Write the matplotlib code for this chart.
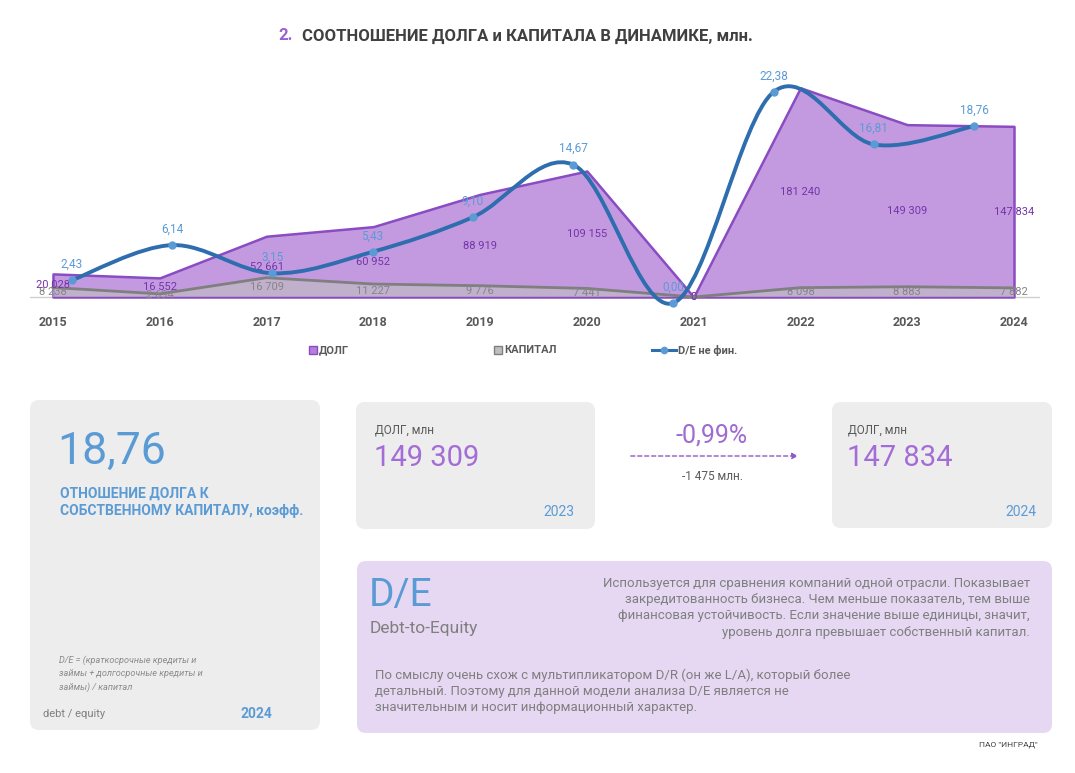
import matplotlib
matplotlib.use("Agg")
import matplotlib.pyplot as plt
import matplotlib.patches as mpatches
from matplotlib.path import Path
from matplotlib.lines import Line2D

plt.rcParams['font.family'] = ['Liberation Sans Narrow', 'Roboto', 'DejaVu Sans']

years = ["2015", "2016", "2017", "2018", "2019", "2020", "2021", "2022", "2023", "2024"]
debt = [20028, 16552, 52661, 60952, 88919, 109155, 0, 181240, 149309, 147834]
capital = [8238, 2694, 16709, 11227, 9776, 7441, 0, 8098, 8883, 7882]
de_ratio = [2.43, 6.14, 3.15, 5.43, 9.10, 14.67, 0.00, 22.38, 16.81, 18.76]

DEBT_FILL = '#C39AE0'
DEBT_EDGE = '#8A4CC2'
DEBT_TXT = '#7434A8'
CAP_EDGE = '#7F7F7F'
DE_LINE = '#2E6DAE'
DE_MARK = '#5B9BD5'
BLUE = '#5B9BD5'
GREY = '#7F7F7F'
DARK = '#595959'
PURPLE = '#A46CD6'

W, H = 1075, 773


def thousands(v):
    return f"{v:,}".replace(",", " ")


def dec(v):
    return f"{v:.2f}".replace(".", ",")


def ax_rect(x0, y0, x1, y1):
    # pixel box (top-left origin) -> figure fraction
    return [x0 / W, 1 - y1 / H, (x1 - x0) / W, (y1 - y0) / H]


fig = plt.figure(figsize=(W / 100, H / 100), dpi=100)

# background layer in pixel coords
bg = fig.add_axes([0, 0, 1, 1])
bg.set_xlim(0, W)
bg.set_ylim(H, 0)
bg.axis('off')

# ---- chart ----
x0, x1, y0, y1 = 30, 1040, 60, 310
ax = fig.add_axes(ax_rect(x0, y0, x1, y1))
ax.patch.set_alpha(0)
ux = 9 / (1014 - 53)
ax.set_xlim(-(53 - x0) * ux, 9 + (x1 - 1014) * ux)
uy = 109155 / 126
ax.set_ylim(-(y1 - 297) * uy, (297 - y0) * uy)
for s in ax.spines.values():
    s.set_visible(False)
ax.set_yticks([])
xs = list(range(len(years)))
ax.set_xticks(xs, years)
ax.tick_params(axis='x', length=0, pad=4, labelsize=9, labelcolor=DARK)
for t in ax.get_xticklabels():
    t.set_fontweight('bold')

ax.fill_between(xs, debt, 0, facecolor=DEBT_FILL, edgecolor=DEBT_EDGE, linewidth=1.8, zorder=2)
ax.fill_between(xs, capital, 0, facecolor='#BFBFBF', alpha=0.6, edgecolor='none', zorder=3)
ax.plot(xs, capital, color=CAP_EDGE, lw=2, zorder=3)
ax.axhline(0, color='#D0D0D0', lw=1, zorder=1)

for i in xs:
    ax.text(i, capital[i] / 2, thousands(capital[i]), color='#858585', fontsize=8,
            ha='center', va='center', zorder=5)
    ax.text(i, debt[i] / 2, thousands(debt[i]), color=DEBT_TXT, fontsize=8,
            ha='center', va='center', zorder=5)

# D/E on its own overlay axes (different category padding)
ax2 = fig.add_axes(ax_rect(x0, y0, x1, y1))
ax2.patch.set_alpha(0)
ax2.axis('off')
vx = 9 / (974 - 72)
ax2.set_xlim(-(72 - x0) * vx, 9 + (x1 - 974) * vx)
vy = 1 / 9.43
ax2.set_ylim(-(y1 - 303) * vy, (303 - y0) * vy)

pts = list(zip(xs, de_ratio))
verts = [pts[0]]
codes = [Path.MOVETO]
for i in range(len(pts) - 1):
    p0 = pts[max(i - 1, 0)]
    p1 = pts[i]
    p2 = pts[i + 1]
    p3 = pts[min(i + 2, len(pts) - 1)]
    c1 = (p1[0] + (p2[0] - p0[0]) / 6, p1[1] + (p2[1] - p0[1]) / 6)
    c2 = (p2[0] - (p3[0] - p1[0]) / 6, p2[1] - (p3[1] - p1[1]) / 6)
    verts += [c1, c2, p2]
    codes += [Path.CURVE4] * 3
ax2.add_patch(mpatches.PathPatch(Path(verts, codes), facecolor='none', edgecolor=DE_LINE,
                                 lw=2.8, zorder=6, clip_on=False))
ax2.plot(xs, de_ratio, ls='none', marker='o', ms=5, color=DE_MARK, zorder=7, clip_on=False)
for i in xs:
    ax2.annotate(dec(de_ratio[i]), (i, de_ratio[i]), xytext=(0, 16), textcoords='offset pixels',
                 ha='center', va='center', color=BLUE, fontsize=8.5, zorder=8)

# title
bg.text(278, 36, "2.", color='#9B5FD3', fontsize=12, fontweight='bold', va='center')
bg.text(302, 36, "СООТНОШЕНИЕ ДОЛГА и КАПИТАЛА В ДИНАМИКЕ, млн.", color='#404040',
        fontsize=12, fontweight='bold', va='center')

# legend
bg.add_patch(mpatches.Rectangle((309, 346), 8, 8, facecolor='#B57EDC', edgecolor=DEBT_EDGE, lw=1))
bg.text(319, 350, "ДОЛГ", color=DARK, fontsize=8, fontweight='bold', va='center')
bg.add_patch(mpatches.Rectangle((494, 346), 8, 8, facecolor='#BFBFBF', edgecolor=CAP_EDGE, lw=1))
bg.text(504, 350, "КАПИТАЛ", color=DARK, fontsize=8, fontweight='bold', va='center')
bg.add_line(Line2D([652, 676], [350, 350], color=DE_LINE, lw=2.2))
bg.plot([664], [350], marker='o', ms=4.5, color=DE_MARK)
bg.text(678, 350, "D/E не фин.", color=DARK, fontsize=8, fontweight='bold', va='center')


def panel(x, y, w, h, color):
    bg.add_patch(mpatches.FancyBboxPatch((x, y), w, h, boxstyle="round,pad=0,rounding_size=9",
                                         facecolor=color, edgecolor='none'))


# left panel
panel(30, 400, 290, 330, '#EDEDED')
bg.text(57, 452, dec(de_ratio[-1]), color=BLUE, fontsize=32, va='center')
bg.text(60, 494, "ОТНОШЕНИЕ ДОЛГА К", color=BLUE, fontsize=10, fontweight='bold', va='center')
bg.text(60, 511, "СОБСТВЕННОМУ КАПИТАЛУ, коэфф.", color=BLUE, fontsize=10, fontweight='bold',
        va='center')
formula = ["D/E = (краткосрочные кредиты и", "займы + долгосрочные кредиты и", "займы) / капитал"]
for k, line in enumerate(formula):
    bg.text(59, 660 + k * 13.5, line, color='#8C8C8C', fontsize=6.6, style='italic', va='center')
bg.text(43, 714, "debt / equity", color=GREY, fontsize=8, va='center')
bg.text(272, 714, years[-1], color=BLUE, fontsize=10, fontweight='bold', va='center', ha='right')

# debt panels
panel(356, 402, 239, 127, '#EDEDED')
bg.text(375, 430, "ДОЛГ, млн", color=DARK, fontsize=8.5, va='center')
bg.text(374, 458, thousands(debt[-2]), color=PURPLE, fontsize=21, va='center')
bg.text(574, 512, years[-2], color=BLUE, fontsize=10, va='center', ha='right')

panel(832, 402, 220, 126, '#EDEDED')
bg.text(848, 430, "ДОЛГ, млн", color=DARK, fontsize=8.5, va='center')
bg.text(847, 458, thousands(debt[-1]), color=PURPLE, fontsize=21, va='center')
bg.text(1036, 512, years[-1], color=BLUE, fontsize=10, va='center', ha='right')

change = debt[-1] - debt[-2]
pct = change / debt[-2] * 100
bg.text(712, 435, f"{pct:.2f}%".replace(".", ","), color='#9E6BD0', fontsize=18, ha='center',
        va='center')
bg.annotate("", xy=(801, 456), xytext=(628, 456),
            arrowprops=dict(arrowstyle='-|>', color='#8E5BC8', lw=1, ls=(0, (3, 2)),
                            mutation_scale=9))
bg.text(712, 476, thousands(change) + " млн.", color=DARK, fontsize=8.5, ha='center', va='center')

# D/E description panel
panel(357, 561, 695, 172, '#E6D8F2')
bg.text(369, 596, "D/E", color=BLUE, fontsize=28, va='center')
bg.text(370, 628, "Debt-to-Equity", color=GREY, fontsize=12.5, va='center')
right_lines = [
    "Используется для сравнения компаний одной отрасли. Показывает",
    "закредитованность бизнеса. Чем меньше показатель, тем выше",
    "финансовая устойчивость. Если значение выше единицы, значит,",
    "уровень долга превышает собственный капитал.",
]
for k, line in enumerate(right_lines):
    bg.text(1030, 583 + k * 16.5, line, color=GREY, fontsize=9.5, ha='right', va='center')
left_lines = [
    "По смыслу очень схож с мультипликатором D/R (он же L/A), который более",
    "детальный. Поэтому для данной модели анализа D/E является не",
    "значительным и носит информационный характер.",
]
for k, line in enumerate(left_lines):
    bg.text(375, 675 + k * 16.5, line, color=GREY, fontsize=9.5, va='center')

bg.text(1038, 745, "ПАО \"ИНГРАД\"", color='#404040', fontsize=6, ha='right', va='center')

fig.savefig("out.png", dpi=100)
